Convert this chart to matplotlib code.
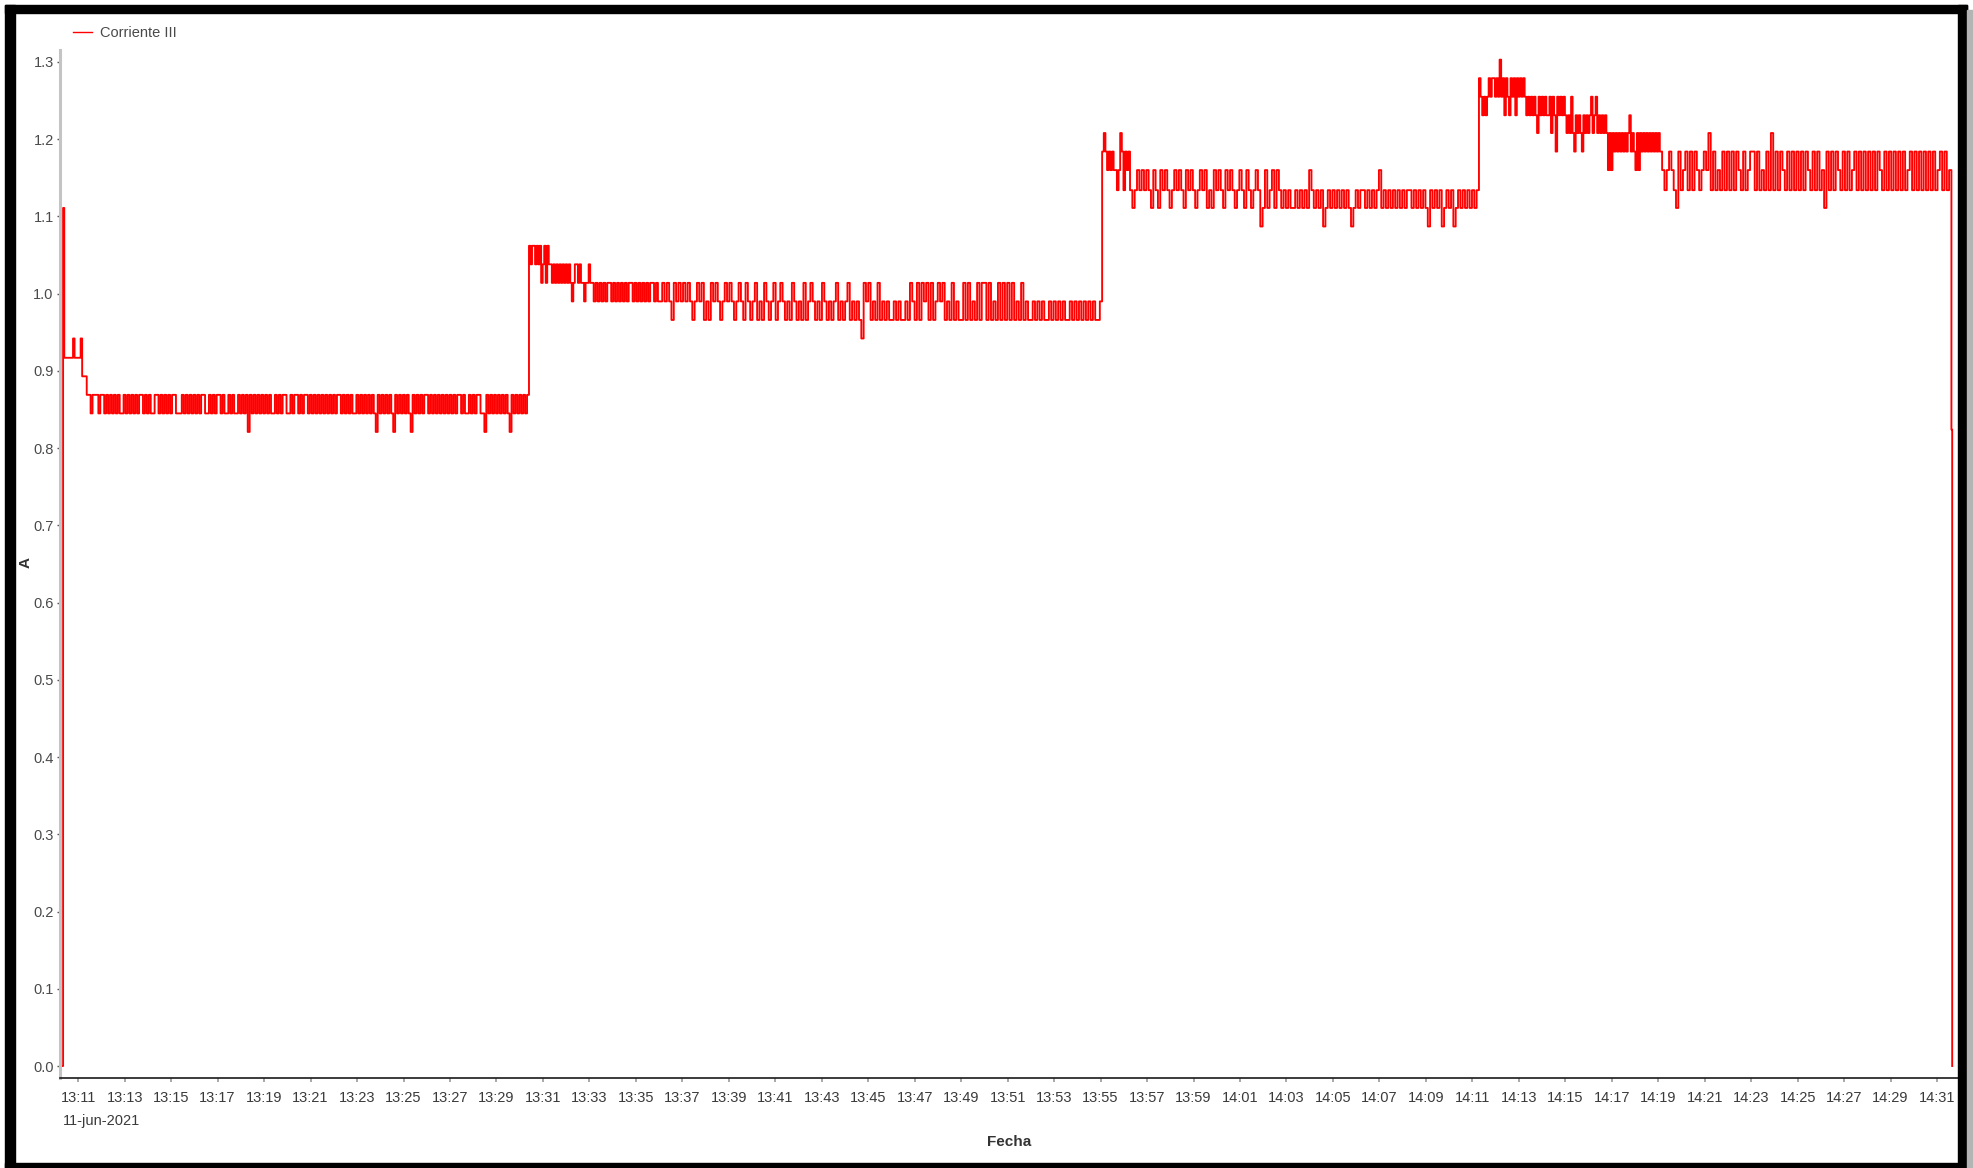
import numpy as np
import matplotlib
matplotlib.use('Agg')
import matplotlib.pyplot as plt
import matplotlib.dates as mdates
from matplotlib.patches import Rectangle
from matplotlib.lines import Line2D

W, H = 1973, 1168
DAY = '2021-06-11T'

# each segment: start, end, the current levels seen in it (A), and a hand-read
# sample string where each digit is an index into that segment's levels
seg_start = ['13:10:18', '13:10:27', '13:11:22', '13:30:24', '13:31:19', '13:33:06',
             '13:36:02', '13:55:04', '13:56:16', '14:11:17', '14:11:38', '14:13:15',
             '14:14:59', '14:16:50', '14:19:04', '14:31:37']
seg_end = ['13:10:27', '13:11:22', '13:30:24', '13:31:19', '13:33:06', '13:36:02',
           '13:55:04', '13:56:16', '14:11:17', '14:11:38', '14:13:15', '14:14:59',
           '14:16:50', '14:19:04', '14:31:37', '14:31:41']
seg_levels = [
    (0.0, 1.111, 0.917),
    (0.893, 0.917, 0.942),
    (0.821, 0.845, 0.869),
    (0.990, 1.014, 1.038, 1.062),
    (0.990, 1.014, 1.038),
    (0.990, 1.014, 1.038),
    (0.942, 0.966, 0.990, 1.014),
    (1.134, 1.160, 1.184, 1.208),
    (1.087, 1.111, 1.134, 1.160),
    (1.231, 1.255, 1.279),
    (1.231, 1.255, 1.279, 1.303),
    (1.184, 1.208, 1.231, 1.255),
    (1.184, 1.208, 1.231, 1.255),
    (1.160, 1.184, 1.208, 1.231),
    (1.111, 1.134, 1.160, 1.184, 1.208),
    (0.0, 0.824),
]
seg_pattern = [
    '012',
    '11111211112000',
    '221222122121' '212121121212' '121221212112' '212121212211' '121212121212'
    '211212122121' '121211212120' '212121212121' '121212211212' '212122121212'
    '121212121221' '212121121212' '121210212121' '210212121210' '212121221212'
    '121212121212' '212112121221' '102121212121' '210212121212',
    '32332323123132',
    '21212121212121' '0' '1221211' '0' '1121',
    '10101010110101010101101010101011010',
    '2323213232' '3232123231' '2132321232' '3212321321' '2312132123'
    '1232121321' '2131232121' '3212123121' '2312121032' '3121312121'
    '1212112132' '1313231312' '3231213121' '1313121313' '3131213131'
    '3131213121' '1212121121' '2121211212' '1212121211' '2',
    '23212121101320212',
    '2123232321' '3213232123' '2321323212' '3231213232' '1323212321'
    '3212320131' '2313212121' '1212121321' '2120121212' '1212101212'
    '2121212312' '1212121212' '2121212102' '1212012120' '1212121212',
    '21010',
    '121221213120210212021212',
    '32323232' '1' '32323223' '1' '32' '0' '32323',
    '2121310212102121231231212121',
    '0202121212121231210202121212121212',
    '3212321031' '2313132123' '2413121313' '1313213123' '3131213141'
    '3132131313' '1313213131' '2031313213' '1312313131' '3131321313'
    '1313131231' '3131313131' '231312',
    '10',
]

y_ticks = [0.0, 0.1, 0.2, 0.3, 0.4, 0.5, 0.6, 0.7, 0.8, 0.9, 1.0, 1.1, 1.2, 1.3]
x_lim = ('13:10:13', '14:31:54')
series_name = 'Corriente III'


def tnum(hms):
    return mdates.date2num(np.datetime64(DAY + hms))


times, amps = [], []
for s, e, lv, pat in zip(seg_start, seg_end, seg_levels, seg_pattern):
    t0, t1 = tnum(s), tnum(e)
    n = len(pat)
    times.extend(t0 + (t1 - t0) * np.arange(n) / n)
    amps.extend(lv[int(c)] for c in pat)

plt.rcParams['font.family'] = ['Liberation Sans', 'DejaVu Sans']

fig = plt.figure(figsize=(W / 100, H / 100), dpi=100)
ax = fig.add_axes([60 / W, 90 / H, 1898 / W, 1028 / H])

ax.plot(times, amps, color='#ff0000', lw=1.35, drawstyle='steps-post')

ax.xaxis_date()
ax.xaxis.set_major_locator(mdates.MinuteLocator(byminute=range(1, 60, 2)))
ax.xaxis.set_major_formatter(mdates.DateFormatter('%H:%M'))
ax.set_xlim(tnum(x_lim[0]), tnum(x_lim[1]))
ax.set_ylim(-0.0155, 1.3155)
ax.set_yticks(y_ticks)
ax.set_yticklabels(['%.1f' % v for v in y_ticks])

for sp in ['top', 'right']:
    ax.spines[sp].set_visible(False)
ax.spines['left'].set_color('#c4c4c4')
ax.spines['left'].set_linewidth(2.2)
ax.spines['bottom'].set_color('#1a1a1a')
ax.spines['bottom'].set_linewidth(1.2)

ax.tick_params(axis='x', length=3, width=1.2, color='#9a9a9a', pad=6,
               labelsize=10.5, labelcolor='#3a3a3a')
ax.tick_params(axis='y', length=2.5, width=1.0, color='#555555', pad=2,
               labelsize=10.5, labelcolor='#4a4a4a')

ax.annotate('11-jun-2021', xy=(tnum('13:11:00'), 0), xycoords=('data', 'axes fraction'),
            xytext=(-11, -31), textcoords='offset points', ha='left', va='center',
            fontsize=10.5, color='#3a3a3a')

fig.text(1009 / W, 1 - 1142 / H, 'Fecha', fontsize=11, fontweight='bold',
         color='#333333', ha='center', va='center')
fig.text(26 / W, 1 - 562 / H, 'A', fontsize=11, fontweight='bold',
         color='#333333', rotation=90, ha='center', va='center')

handle = Line2D([], [], color='#ff0000', lw=1.0)
ax.legend([handle], [series_name], loc='center left',
          bbox_to_anchor=((73 - 60) / 1898, (1078 - 33) / 1028),
          frameon=False, borderpad=0, borderaxespad=0, handlelength=1.3,
          handletextpad=0.55, fontsize=10.5, labelcolor='#4a4a4a')


def px_rect(x0, y0, x1, y1, color):
    fig.add_artist(Rectangle((x0 / W, 1 - y1 / H), (x1 - x0) / W, (y1 - y0) / H,
                             transform=fig.transFigure, color=color, zorder=10))


# black frame around the screenshot
px_rect(5, 5, 15, 1168, 'black')
px_rect(5, 5, 1967, 13, 'black')
px_rect(1958, 5, 1967, 1168, 'black')
px_rect(5, 1163, 1967, 1168, 'black')
px_rect(1967, 10, 1973, 1168, '#b4b4b4')

fig.savefig('out.png', dpi=100, facecolor='white')
